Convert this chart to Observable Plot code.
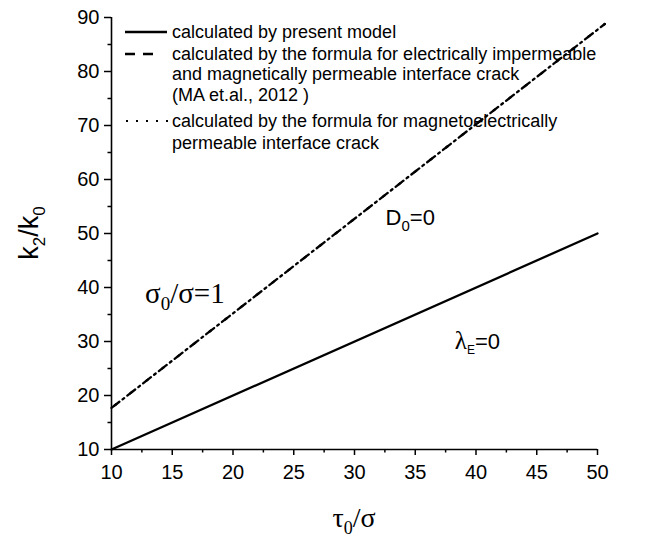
<!DOCTYPE html>
<html><head><meta charset="utf-8">
<script src="https://cdn.jsdelivr.net/npm/d3@7"></script>
<script src="https://cdn.jsdelivr.net/npm/@observablehq/plot@0.6"></script>
<style>body{margin:0;background:#fff}#chart{width:647px;height:542px}</style>
</head><body><div id="chart"></div>
<script>
// ---- data ----
const xTicks = [10, 15, 20, 25, 30, 35, 40, 45, 50];
const xMinorTicks = [12.5, 17.5, 22.5, 27.5, 32.5, 37.5, 42.5, 47.5];
const yTicks = [10, 20, 30, 40, 50, 60, 70, 80, 90];
const yMinorTicks = [15, 25, 35, 45, 55, 65, 75, 85];
const modelTau = [10, 50];
const presentModel = [10, 50];
const formulaTau = [10, 50.6];
const impermeableFormula = [17.7, 88.8];
const permeableFormula = [17.7, 88.8];
const legendLines = [
  "calculated by present model",
  "calculated by the formula for electrically impermeable",
  "and magnetically permeable interface crack",
  "(MA et.al., 2012 )",
  "calculated by the formula for magnetoelectrically",
  "permeable interface crack"
];

const toRows = (xs, ys) => xs.map((x, i) => ({x, y: ys[i]}));
const rowsPresent = toRows(modelTau, presentModel);
const rowsImperm = toRows(formulaTau, impermeableFormula);
const rowsPerm = toRows(formulaTau, permeableFormula);

const sans = "'Liberation Sans', Arial, sans-serif";
const serif = "'Liberation Serif', 'Times New Roman', serif";

const plot = Plot.plot({
  width: 647, height: 542,
  marginLeft: 111, marginRight: 50, marginTop: 17, marginBottom: 93,
  x: {domain: [10, 50]},
  y: {domain: [10, 90]},
  style: {fontFamily: sans, background: "white", color: "black", overflow: "visible"},
  marks: [
    Plot.axisX(xTicks, {tickSize: 6, tickPadding: 9, fontSize: 20, label: null, strokeWidth: 1.5}),
    Plot.axisX(xMinorTicks, {tickSize: 3.5, tickFormat: () => "", label: null, strokeWidth: 1.5}),
    Plot.axisY(yTicks, {tickSize: 7, tickPadding: 5, fontSize: 20, label: null, strokeWidth: 1.5}),
    Plot.axisY(yMinorTicks, {tickSize: 3.5, tickFormat: () => "", label: null, strokeWidth: 1.5}),
    Plot.ruleX([10], {strokeWidth: 1.6}),
    Plot.ruleY([10], {strokeWidth: 1.6}),
    Plot.line(rowsPresent, {x: "x", y: "y", strokeWidth: 2.3}),
    Plot.line(rowsImperm, {x: "x", y: "y", strokeWidth: 2.3, strokeDasharray: "10,10"}),
    Plot.line(rowsPerm, {x: "x", y: "y", strokeWidth: 2.3, strokeDasharray: "2,8", strokeDashoffset: -4})
  ]
});
document.getElementById("chart").appendChild(plot);

const svg = d3.select(plot);
const sx = plot.scale("x"), sy = plot.scale("y");

// axis titles
const xt = svg.append("text").attr("x", (sx.apply(10) + sx.apply(50)) / 2).attr("y", 527)
  .attr("text-anchor", "middle").attr("font-family", serif).attr("font-size", 28).attr("fill", "black");
xt.append("tspan").text("τ");
xt.append("tspan").attr("dy", 7).attr("font-size", 18).text("0");
xt.append("tspan").attr("dy", -7).text("/σ");

const ycy = (sy.apply(10) + sy.apply(90)) / 2;
const yt = svg.append("text").attr("transform", `translate(38,${ycy}) rotate(-90)`)
  .attr("text-anchor", "middle").attr("font-family", sans).attr("font-size", 27).attr("fill", "black");
yt.append("tspan").text("k");
yt.append("tspan").attr("dy", 7).attr("font-size", 17).text("2");
yt.append("tspan").attr("dy", -7).text("/k");
yt.append("tspan").attr("dy", 7).attr("font-size", 17).text("0");

// annotations
const a1 = svg.append("text").attr("x", sx.apply(12.8)).attr("y", sy.apply(37))
  .attr("text-anchor", "start").attr("font-family", serif).attr("font-size", 29).attr("fill", "black");
a1.append("tspan").text("σ");
a1.append("tspan").attr("dy", 7).attr("font-size", 19).text("0");
a1.append("tspan").attr("dy", -7).text("/σ=1");

const a2 = svg.append("text").attr("x", sx.apply(32.6)).attr("y", sy.apply(51.5))
  .attr("text-anchor", "start").attr("font-family", sans).attr("font-size", 22).attr("fill", "black");
a2.append("tspan").text("D");
a2.append("tspan").attr("dy", 6).attr("font-size", 15).text("0");
a2.append("tspan").attr("dy", -6).text("=0");

const a3 = svg.append("text").attr("x", sx.apply(38.3)).attr("y", sy.apply(28.5))
  .attr("text-anchor", "start").attr("font-family", sans).attr("font-size", 22).attr("fill", "black");
a3.append("tspan").attr("font-family", serif).attr("font-size", 25).text("λ");
a3.append("tspan").attr("dy", 5).attr("font-size", 12).text("E");
a3.append("tspan").attr("dy", -5).text("=0");

// legend
const lgX = 172, lgY = [32, 54, 74, 95, 121, 143];
const lg = svg.append("g").attr("font-family", sans).attr("font-size", 18).attr("fill", "black")
  .attr("text-anchor", "start");
legendLines.forEach((t, i) => {
  lg.append("text").attr("x", lgX).attr("y", lgY[i]).attr("dy", "0.35em").text(t);
});
lg.append("line").attr("x1", 125).attr("x2", 167).attr("y1", lgY[0]).attr("y2", lgY[0])
  .attr("stroke", "black").attr("stroke-width", 2.3);
lg.append("line").attr("x1", 125).attr("x2", 155).attr("y1", lgY[1]).attr("y2", lgY[1])
  .attr("stroke", "black").attr("stroke-width", 2.3).attr("stroke-dasharray", "10,8");
lg.append("line").attr("x1", 126).attr("x2", 168).attr("y1", lgY[4]).attr("y2", lgY[4])
  .attr("stroke", "black").attr("stroke-width", 2).attr("stroke-dasharray", "2,8");
</script>
</body></html>
